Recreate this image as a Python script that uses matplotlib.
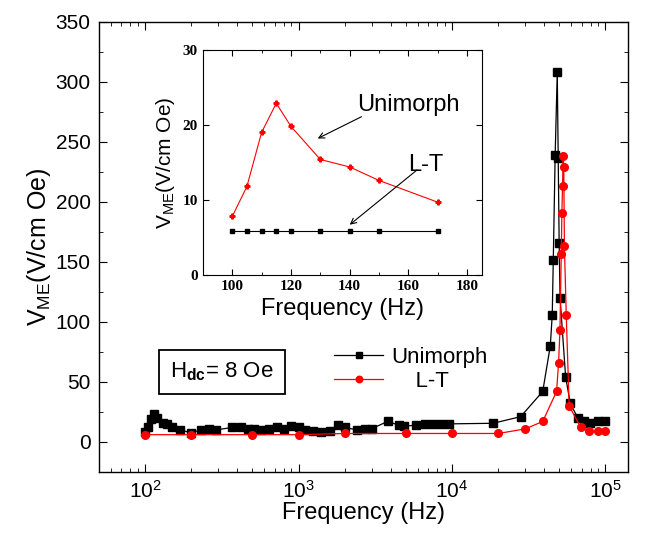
import numpy as np
import matplotlib
matplotlib.use("Agg")
import matplotlib.pyplot as plt
from matplotlib.ticker import MultipleLocator, LogLocator, NullFormatter

plt.rcParams['font.family'] = ['Liberation Sans', 'DejaVu Sans']
plt.rcParams['mathtext.fontset'] = 'custom'
plt.rcParams['mathtext.rm'] = 'Liberation Sans'
plt.rcParams['mathtext.bf'] = 'Liberation Sans:bold'

# ---------------------------------------------------------------
# data
# ---------------------------------------------------------------
uni_f = [100, 105, 110, 115, 120, 130, 140, 150, 170, 200, 230, 260, 290,
         370, 420, 470, 510, 570, 640, 720, 800, 900, 1000, 1100, 1250,
         1400, 1600, 1800, 2000, 2400, 2700, 3000, 3800, 4500, 4900, 5800,
         6700, 7500, 8500, 9600, 18500, 28000, 39000, 43700, 45000, 45700,
         47000, 48500, 49200, 49900, 50600, 55000, 59000, 66000, 72000,
         79000, 90000, 100000]
uni_v = [8, 12, 19, 23, 20, 15.5, 14.5, 12.5, 10, 7.5, 10, 11, 10,
         12, 12, 11, 11, 10, 11, 12, 11, 13, 12, 10, 9,
         8, 9, 14, 12, 10, 11, 11, 17, 14, 13, 14,
         15, 15, 15, 15, 15.5, 21, 42, 80, 106, 152,
         239, 308, 237, 166, 120, 54, 32, 20, 17,
         16, 17, 17]

lt_f = [100, 200, 500, 1000, 2000, 5000, 10000, 20000, 30000, 39000, 48000,
        49500, 50500, 51500, 52000, 52500, 53000, 53500, 54000, 55500,
        58000, 69000, 78000, 89000, 100000]
lt_v = [6, 6, 6, 6, 7, 7, 7, 7, 10.8, 17, 42,
        66, 93, 157, 191, 213, 238, 229, 163, 106,
        30, 12, 9, 9, 9]

# inset (100-170 Hz)
ins_f = [100, 105, 110, 115, 120, 130, 140, 150, 170]
ins_red = [7.8, 11.8, 19.0, 22.9, 19.8, 15.4, 14.4, 12.6, 9.7]
ins_black = [5.9, 5.9, 5.9, 5.9, 5.9, 5.9, 5.9, 5.9, 5.9]

# ---------------------------------------------------------------
fig = plt.figure(figsize=(6.46, 5.35), dpi=100)
ax = fig.add_axes([0.153, 0.118, 0.819, 0.841])

ax.plot(uni_f, uni_v, '-', color='black', lw=0.9, marker='s', ms=5.5,
        label='Unimorph')
ax.plot(lt_f, lt_v, '-', color='red', lw=0.9, marker='o', ms=5.5,
        label='    L-T')

ax.set_xscale('log')
ax.set_xlim(50, 1.4e5)
ax.set_ylim(-25, 350)
ax.yaxis.set_major_locator(MultipleLocator(50))
ax.yaxis.set_minor_locator(MultipleLocator(25))
ax.xaxis.set_major_locator(LogLocator(base=10, numticks=10))
ax.xaxis.set_minor_locator(LogLocator(base=10, subs=np.arange(2, 10), numticks=20))
ax.xaxis.set_minor_formatter(NullFormatter())
ax.tick_params(which='both', direction='in', top=True, right=True)
ax.tick_params(which='major', length=6, labelsize=15, pad=6)
ax.tick_params(which='minor', length=3)
for s in ax.spines.values():
    s.set_linewidth(1.0)

ax.set_xlabel('Frequency (Hz)', fontsize=17, labelpad=0)
ax.set_ylabel('V$_{\\mathrm{ME}}$(V/cm Oe)', fontsize=18, labelpad=2)

leg = ax.legend(loc='upper left', bbox_to_anchor=(0.428, 0.298), frameon=False,
                fontsize=16, handlelength=2.2, handletextpad=0.35,
                labelspacing=0.15, borderaxespad=0, markerscale=0.85)

ax.text(0.2325, 0.222, 'H$_{\\mathbf{dc}}$= 8 Oe', transform=ax.transAxes,
        fontsize=16, va='center', ha='center',
        bbox=dict(boxstyle='square,pad=0.5', fc='white', ec='black', lw=1.3))

# ---------------------------------------------------------------
# inset
# ---------------------------------------------------------------
axi = fig.add_axes([0.314, 0.486, 0.432, 0.4206])
axi.plot(ins_f, ins_red, '-', color='red', lw=0.8, marker='P', ms=3.5)
axi.plot(ins_f, ins_black, '-', color='black', lw=0.8, marker='s', ms=2.2)
axi.set_xlim(90, 185)
axi.set_ylim(0, 30)
axi.xaxis.set_major_locator(MultipleLocator(20))
axi.xaxis.set_minor_locator(MultipleLocator(10))
axi.yaxis.set_major_locator(MultipleLocator(10))
axi.tick_params(which='both', direction='in', top=True, right=True)
axi.tick_params(which='major', length=4)
axi.tick_params(which='minor', length=2)
for lab in axi.get_xticklabels() + axi.get_yticklabels():
    lab.set_family(['Liberation Serif', 'DejaVu Serif'])
    lab.set_fontweight('bold')
    lab.set_fontsize(11)
axi.set_xlabel('Frequency (Hz)', fontsize=17, labelpad=4)
axi.set_ylabel('V$_{\\mathrm{ME}}$(V/cm Oe)', fontsize=15, labelpad=4)

# arrows and their labels
axi.text(160, 22.7, 'Unimorph', fontsize=17, ha='center', va='center')
axi.annotate('', xy=(129.1, 18.2), xytext=(144, 21.1),
             arrowprops=dict(arrowstyle='->', color='black', lw=0.8,
                             shrinkA=0, shrinkB=0))
axi.text(166, 14.7, 'L-T', fontsize=17, ha='center', va='center')
axi.annotate('', xy=(140, 6.7), xytext=(162.9, 14),
             arrowprops=dict(arrowstyle='->', color='black', lw=0.8,
                             shrinkA=0, shrinkB=0))

fig.savefig('out.png', dpi=100)
